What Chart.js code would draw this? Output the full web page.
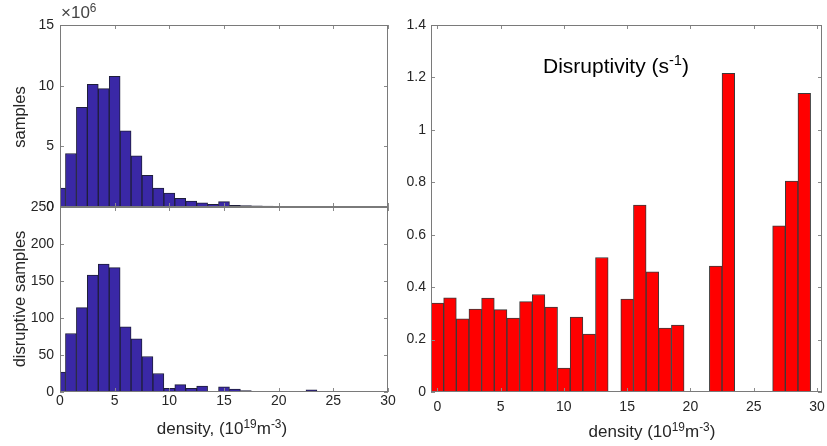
<!DOCTYPE html>
<html>
<head>
<meta charset="utf-8">
<script src="https://cdn.jsdelivr.net/npm/chart.js@4.4.1/dist/chart.umd.min.js"></script>
<style>
body { margin:0; background:#fff; width:827px; height:446px; overflow:hidden; position:relative;
       font-family:"Liberation Sans", Arial, sans-serif; color:#262626; }
canvas { position:absolute; }
.lbl { position:absolute; white-space:nowrap; line-height:1; }
.lbl sup { font-size:70%; vertical-align:0.5em; line-height:0; }
.rot { transform:translate(-50%,-50%) rotate(-90deg); }
.ctr { transform:translate(-50%,-50%); }
</style>
</head>
<body>
<canvas id="samples" width="400" height="215" style="left:0;top:0"></canvas>
<canvas id="disrupt" width="400" height="246" style="left:0;top:200px"></canvas>
<canvas id="rate" width="427" height="446" style="left:400px;top:0"></canvas>

<div class="lbl" style="left:61px;top:4px;font-size:17px;color:#444">&times;10<sup>6</sup></div>
<div class="lbl rot" style="left:19px;top:117px;font-size:16.5px">samples</div>
<div class="lbl rot" style="left:19px;top:299px;font-size:16.5px">disruptive samples</div>
<div class="lbl ctr" style="left:222px;top:428px;font-size:17px">density, (10<sup>19</sup>m<sup>-3</sup>)</div>
<div class="lbl ctr" style="left:652px;top:431px;font-size:17px">density (10<sup>19</sup>m<sup>-3</sup>)</div>
<div class="lbl ctr" style="left:616px;top:65px;font-size:21px;color:#000">Disruptivity (s<sup>-1</sup>)</div>

<script>
// density bins, centred on integers (10^19 m^-3)
var bins = [0,1,2,3,4,5,6,7,8,9,10,11,12,13,14,15,16,17,18,19,20,21,22,23,24,25,26,27,28,29];

// all samples, in units of 10^6
var samplesM = [1.56,4.41,8.22,10.1,9.75,10.77,6.27,4.22,2.6,1.56,1.15,0.71,0.49,0.35,0.21,
                0.44,0.13,0.11,0.1,0.08,0.06,0.05,0.045,0.045,0.04,0.035,0.03,0.03,0.025,0.02];

// disruptive samples
var disruptive = [27,79,114,158,173,168,88,72,48,25,5,10,5,8,0,
                  7,4,2,1,1,0,0,1,3,0,0,0,1,1,1];

// disruptivity, s^-1 (null = empty bin)
var disruptivity = [0.339,0.359,0.279,0.316,0.358,0.314,0.282,0.345,0.372,0.324,0.091,0.286,0.221,0.513,null,
                    0.354,0.713,0.458,0.244,0.255,null,null,0.480,1.216,null,null,null,0.634,0.805,1.139];

var xTicks = [0,5,10,15,20,25,30];
var samplesTicks = [0,5,10,15];
var disruptTicks = [0,50,100,150,200,250];
var rateTicks = [0,0.2,0.4,0.6,0.8,1,1.2,1.4];

var textCol = '#262626';
var tickFont = { family: '"Liberation Sans", Arial, sans-serif', size: 14 };

// MATLAB-like box with inward tick marks on all four sides
var boxTicks = {
  id: 'boxTicks',
  afterDatasetsDraw(chart) {
    var ctx = chart.ctx, a = chart.chartArea;
    var x = chart.scales.x, y = chart.scales.y;
    var len = 4;
    ctx.save();
    ctx.strokeStyle = '#8a8a8a';
    ctx.lineWidth = 1;
    ctx.beginPath();
    x.ticks.forEach(function (t) {
      var px = Math.round(x.getPixelForValue(t.value)) + 0.5;
      ctx.moveTo(px, a.bottom); ctx.lineTo(px, a.bottom - len);
      ctx.moveTo(px, a.top); ctx.lineTo(px, a.top + len);
    });
    y.ticks.forEach(function (t) {
      var py = Math.round(y.getPixelForValue(t.value)) + 0.5;
      ctx.moveTo(a.left, py); ctx.lineTo(a.left + len, py);
      ctx.moveTo(a.right, py); ctx.lineTo(a.right - len, py);
    });
    ctx.stroke();
    ctx.strokeStyle = '#7a7a7a';
    ctx.strokeRect(Math.round(a.left) + 0.5, Math.round(a.top) + 0.5,
                   Math.round(a.width) - 1, Math.round(a.height) - 1);
    ctx.restore();
  }
};

function setTicks(list) {
  return function (axis) { axis.ticks = list.map(function (v) { return { value: v }; }); };
}

function makeChart(id, vals, color, opt) {
  return new Chart(document.getElementById(id), {
    type: 'bar',
    data: {
      datasets: [{
        data: bins.map(function (b, i) { return { x: b, y: vals[i] }; }),
        backgroundColor: color,
        borderColor: opt.edge,
        borderWidth: 1,
        barPercentage: 1,
        categoryPercentage: 1
      }]
    },
    options: {
      responsive: false,
      animation: false,
      devicePixelRatio: 1,
      layout: { padding: opt.padding },
      plugins: { legend: { display: false }, tooltip: { enabled: false } },
      scales: {
        x: {
          type: 'linear',
          offset: false,
          min: opt.xmin, max: opt.xmax,
          display: opt.showX,
          grid: { display: false, drawTicks: false, offset: false },
          border: { display: false },
          afterBuildTicks: setTicks(xTicks),
          ticks: { color: textCol, font: tickFont, padding: opt.xPad, maxRotation: 0, autoSkip: false },
          afterFit: function (s) { s.height = opt.xH; s.paddingLeft = 0; s.paddingRight = 0; }
        },
        y: {
          min: opt.ymin, max: opt.ymax,
          grid: { display: false, drawTicks: false },
          border: { display: false },
          afterBuildTicks: setTicks(opt.yTicks),
          ticks: {
            color: textCol, font: tickFont, padding: opt.yPad, autoSkip: false,
            callback: function (v) { return String(Math.round(v * 10) / 10); }
          },
          afterFit: function (s) { s.width = opt.yW; s.paddingTop = 0; s.paddingBottom = 0; }
        }
      }
    },
    plugins: [boxTicks]
  });
}

makeChart('samples', samplesM, '#3a28a6', {
  edge: '#1e1e3a', padding: { top: 25, right: 12, bottom: 8, left: 0 },
  xmin: 0, xmax: 30, showX: false, xPad: 1, xH: 0,
  ymin: 0, ymax: 15, yTicks: samplesTicks, yPad: 6, yW: 60
});

makeChart('disrupt', disruptive, '#3a28a6', {
  edge: '#1e1e3a', padding: { top: 7, right: 12, bottom: 0, left: 0 },
  xmin: 0, xmax: 30, showX: true, xPad: 1, xH: 54,
  ymin: 0, ymax: 250, yTicks: disruptTicks, yPad: 6, yW: 60
});

makeChart('rate', disruptivity, '#ff0000', {
  edge: '#3a3a3a', padding: { top: 25, right: 5, bottom: 0, left: 0 },
  xmin: -0.5, xmax: 30.4, showX: true, xPad: 7, xH: 54,
  ymin: 0, ymax: 1.4, yTicks: rateTicks, yPad: 5, yW: 31
});
</script>
</body>
</html>
